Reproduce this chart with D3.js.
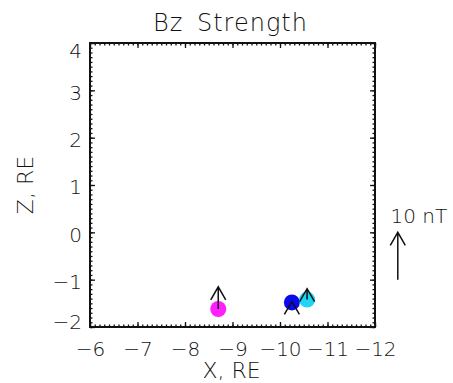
<!DOCTYPE html>
<html>
<head>
<meta charset="utf-8">
<script src="https://cdn.jsdelivr.net/npm/d3@7"></script>
<style>
  html, body { margin: 0; padding: 0; background: #fff; }
  svg { display: block; }
  text { font-family: "DejaVu Sans", sans-serif; font-weight: 200; fill: #111; }
</style>
</head>
<body>
<script>
// Spacecraft positions in the X-Z plane (RE) and measured Bz (nT)
const probes = ["P1", "P2", "P3"];
const posX = [-8.7, -10.25, -10.57];
const posZ = [-1.62, -1.48, -1.42];
const bzValues = [4.7, 0.2, 2.3];
const probeColors = ["#ff1fff", "#0a0af0", "#1ed6f2"];

// Axis ticks
const xTicks = [-6, -7, -8, -9, -10, -11, -12];
const zTicks = [-2, -1, 0, 1, 2, 3, 4];

// Scale reference arrow: 10 nT drawn as 1 RE
const refBz = 10;
const refX = -12.48;
const refZ = -1;
const nTperRE = 10;

const W = 453, H = 383;
const margin = { left: 90, right: 78, top: 43, bottom: 56 };

const svg = d3.select("body").append("svg")
  .attr("width", W).attr("height", H);

svg.append("rect").attr("width", W).attr("height", H).attr("fill", "#fff");

const x = d3.scaleLinear().domain([-6, -12]).range([margin.left, W - margin.right]);
const y = d3.scaleLinear().domain([-2, 4]).range([H - margin.bottom, margin.top]);

const minorX = d3.range(-60, -121, -1).map(v => v / 10);
const minorZ = d3.range(-20, 41, 1).map(v => v / 10);
const intFmt = d3.format("d");

const [x0, x1] = x.range();
const [y0, y1] = y.range();

function styleAxis(g) {
  g.select(".domain").remove();
  g.selectAll(".tick line").attr("stroke", "#111").attr("stroke-width", 1.3);
  g.selectAll("text").style("font-size", "20px").attr("fill", "#111");
}

// Minor ticks on all four sides
svg.append("g").attr("transform", `translate(0,${y0})`)
  .call(d3.axisBottom(x).tickValues(minorX).tickSize(-2.5).tickFormat(""))
  .call(styleAxis);
svg.append("g").attr("transform", `translate(0,${y1})`)
  .call(d3.axisTop(x).tickValues(minorX).tickSize(-2.5).tickFormat(""))
  .call(styleAxis);
svg.append("g").attr("transform", `translate(${x0},0)`)
  .call(d3.axisLeft(y).tickValues(minorZ).tickSize(-2.5).tickFormat(""))
  .call(styleAxis);
svg.append("g").attr("transform", `translate(${x1},0)`)
  .call(d3.axisRight(y).tickValues(minorZ).tickSize(-2.5).tickFormat(""))
  .call(styleAxis);

// Major ticks with labels on bottom and left
svg.append("g").attr("transform", `translate(0,${y0})`)
  .call(d3.axisBottom(x).tickValues(xTicks).tickSize(-5).tickPadding(15).tickFormat(intFmt))
  .call(styleAxis);
svg.append("g").attr("transform", `translate(0,${y1})`)
  .call(d3.axisTop(x).tickValues(xTicks).tickSize(-5).tickFormat(""))
  .call(styleAxis);
const leftAxis = svg.append("g").attr("transform", `translate(${x0},0)`)
  .call(d3.axisLeft(y).tickValues(zTicks).tickSize(-5).tickPadding(8).tickFormat(intFmt))
  .call(styleAxis);
leftAxis.selectAll(".tick text")
  .attr("dy", d => d === 4 ? "0.72em" : d === -2 ? "0.06em" : "0.44em");
svg.append("g").attr("transform", `translate(${x1},0)`)
  .call(d3.axisRight(y).tickValues(zTicks).tickSize(-5).tickFormat(""))
  .call(styleAxis);

// Plot frame
svg.append("rect")
  .attr("x", x0).attr("y", y1)
  .attr("width", x1 - x0).attr("height", y0 - y1)
  .attr("fill", "none").attr("stroke", "#111").attr("stroke-width", 2);

// Titles
svg.append("text")
  .attr("x", (x0 + x1) / 2 - 2).attr("y", 30.5)
  .attr("text-anchor", "middle")
  .style("font-size", "24px").style("letter-spacing", "1px").style("word-spacing", "5px")
  .text("Bz Strength");

svg.append("text")
  .attr("x", (x0 + x1) / 2 - 1).attr("y", 378)
  .attr("text-anchor", "middle")
  .style("font-size", "22px")
  .text("X, RE");

svg.append("text")
  .attr("transform", `translate(33,${(y0 + y1) / 2})rotate(-90)`)
  .attr("text-anchor", "middle")
  .style("font-size", "22px")
  .text("Z, RE");

// Arrow drawing: shaft from base to tip with a fixed-size open head
const headLen = 15, headAngle = Math.PI / 6;
function drawArrow(g, bx, bz, tx, tz) {
  const X0 = x(bx), Y0 = y(bz), X1 = x(tx), Y1 = y(tz);
  const ang = Math.atan2(Y1 - Y0, X1 - X0);
  const path = d3.path();
  path.moveTo(X0, Y0); path.lineTo(X1, Y1);
  path.moveTo(X1 - headLen * Math.cos(ang - headAngle), Y1 - headLen * Math.sin(ang - headAngle));
  path.lineTo(X1, Y1);
  path.lineTo(X1 - headLen * Math.cos(ang + headAngle), Y1 - headLen * Math.sin(ang + headAngle));
  g.append("path").attr("d", path.toString())
    .attr("fill", "none").attr("stroke", "#111")
    .attr("stroke-width", 1.5).attr("stroke-linejoin", "miter");
}

const data = probes.map((p, i) => ({ id: p, x: posX[i], z: posZ[i], bz: bzValues[i], color: probeColors[i] }));

const marks = svg.append("g");
marks.selectAll("circle").data(data).join("circle")
  .attr("cx", d => x(d.x)).attr("cy", d => y(d.z))
  .attr("r", 8).attr("fill", d => d.color);

data.forEach(d => drawArrow(marks, d.x, d.z, d.x, d.z + d.bz / nTperRE));

// Reference arrow and label
drawArrow(svg, refX, refZ, refX, refZ + refBz / nTperRE);
svg.append("text")
  .attr("x", 390.5).attr("y", 222.5)
  .style("font-size", "20px")
  .text(`${refBz} nT`);
</script>
</body>
</html>
